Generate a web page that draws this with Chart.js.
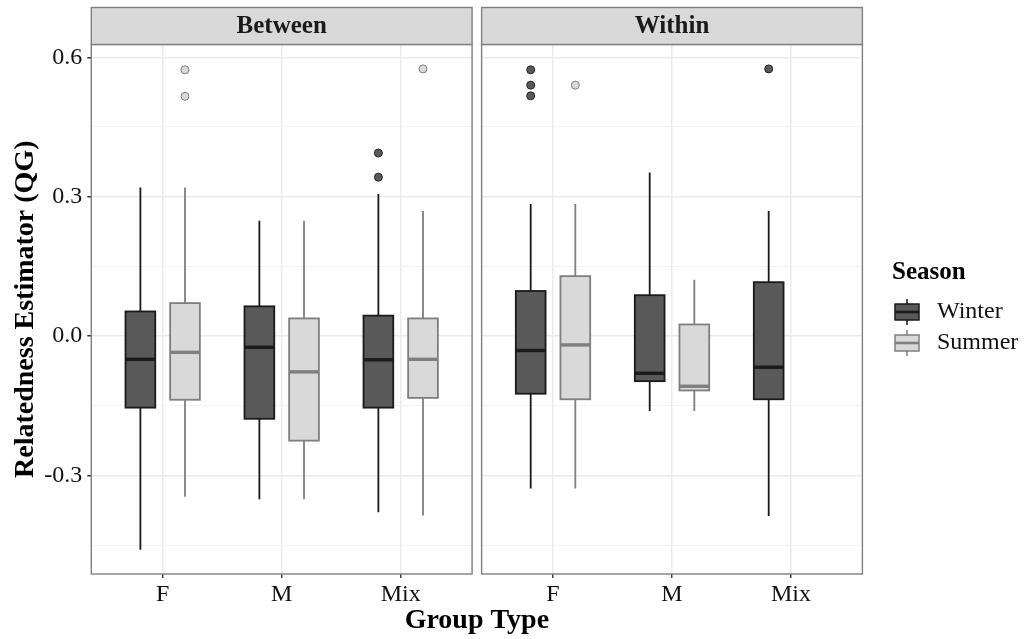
<!DOCTYPE html>
<html>
<head>
<meta charset="utf-8">
<script src="https://cdn.jsdelivr.net/npm/chart.js@4"></script>
<style>
  body { margin: 0; background: #ffffff; }
  #wrap { width: 1025px; height: 639px; }
</style>
</head>
<body>
<div id="wrap"><canvas id="box-chart" width="1025" height="639"></canvas></div>
<script>
// Relatedness by group type, faceted Between / Within
var panels = ["Between", "Within"];
var groupTypes = ["F", "M", "Mix"];
var seasons = ["Winter", "Summer"];
var yTicks = [-0.45, -0.3, -0.15, 0, 0.15, 0.3, 0.45, 0.6];
var yTickLabels = ["", "-0.3", "", "0.0", "", "0.3", "", "0.6"];

// [lower whisker, q1, median, q3, upper whisker] for F, M, Mix (null = no box)
var betweenWinter = [[-0.460, -0.154, -0.050, 0.053, 0.320], [-0.351, -0.178, -0.024, 0.064, 0.248], [-0.379, -0.154, -0.051, 0.044, 0.306]];
var betweenSummer = [[-0.346, -0.137, -0.035, 0.071, 0.320], [-0.351, -0.225, -0.077, 0.038, 0.248], [-0.386, -0.133, -0.050, 0.038, 0.269]];
var withinWinter = [[-0.328, -0.124, -0.031, 0.097, 0.284], [-0.161, -0.097, -0.080, 0.088, 0.352], [-0.387, -0.136, -0.067, 0.116, 0.269]];
var withinSummer = [[-0.328, -0.136, -0.019, 0.129, 0.284], [-0.161, -0.117, -0.108, 0.025, 0.121], null];

// outliers for F, M, Mix
var betweenWinterOutliers = [[], [], [0.394, 0.342]];
var betweenSummerOutliers = [[0.573, 0.516], [], [0.575]];
var withinWinterOutliers = [[0.573, 0.540, 0.517], [], [0.575]];
var withinSummerOutliers = [[0.540], [], []];

var boxStats = [[betweenWinter, betweenSummer], [withinWinter, withinSummer]];
var outliers = [[betweenWinterOutliers, betweenSummerOutliers], [withinWinterOutliers, withinSummerOutliers]];

var fills = ["#595959", "#d9d9d9"];
var strokes = ["#1a1a1a", "#7f7f7f"];
var FONT = "'Liberation Serif', 'Times New Roman', serif";

// x layout in axis units: each facet runs 0.4..3.6, small gap between facets
var PANEL_GAP = 0.08;
var PANEL_SPAN = 3.2 + PANEL_GAP;
var DODGE = 0.1875;
var BOX_HALF = 0.125;

function catPos(p, c) { return p * PANEL_SPAN + c + 1; }
function panelMin(p) { return p * PANEL_SPAN + 0.4; }
function panelMax(p) { return p * PANEL_SPAN + 3.6; }

var xTickValues = [];
for (var p = 0; p < panels.length; p++) {
    for (var c = 0; c < groupTypes.length; c++) xTickValues.push(catPos(p, c));
}

function outlierPoints(s) {
    var pts = [];
    for (var p = 0; p < panels.length; p++) {
        for (var c = 0; c < groupTypes.length; c++) {
            var list = outliers[p][s][c];
            for (var i = 0; i < list.length; i++) {
                pts.push({ x: catPos(p, c) + (s == 0 ? -DODGE : DODGE), y: list[i] });
            }
        }
    }
    return pts;
}

function isMajor(v) {
    return Math.abs(Math.round(v / 0.3) * 0.3 - v) < 1e-6;
}

var boxPlugin = {
    id: 'boxes',
    beforeDatasetsDraw: function (chart) {
        var ctx = chart.ctx, xs = chart.scales.x, ys = chart.scales.y, area = chart.chartArea;
        ctx.save();
        // blank space between the two facets
        var gl = xs.getPixelForValue(panelMax(0)), gr = xs.getPixelForValue(panelMin(1));
        ctx.fillStyle = '#ffffff';
        ctx.fillRect(gl, area.top - 1, gr - gl, area.bottom - area.top + 2);

        for (var p = 0; p < panels.length; p++) {
            for (var s = 0; s < seasons.length; s++) {
                for (var c = 0; c < groupTypes.length; c++) {
                    var st = boxStats[p][s][c];
                    if (!st) continue;
                    var xc = catPos(p, c) + (s == 0 ? -DODGE : DODGE);
                    var px = xs.getPixelForValue(xc);
                    var l = xs.getPixelForValue(xc - BOX_HALF), r = xs.getPixelForValue(xc + BOX_HALF);
                    var yLo = ys.getPixelForValue(st[0]), yQ1 = ys.getPixelForValue(st[1]);
                    var yMed = ys.getPixelForValue(st[2]), yQ3 = ys.getPixelForValue(st[3]);
                    var yHi = ys.getPixelForValue(st[4]);
                    ctx.strokeStyle = strokes[s];
                    ctx.lineWidth = 1.8;
                    ctx.beginPath();
                    ctx.moveTo(px, yHi); ctx.lineTo(px, yQ3);
                    ctx.moveTo(px, yQ1); ctx.lineTo(px, yLo);
                    ctx.stroke();
                    ctx.fillStyle = fills[s];
                    ctx.fillRect(l, yQ3, r - l, yQ1 - yQ3);
                    ctx.strokeRect(l, yQ3, r - l, yQ1 - yQ3);
                    ctx.lineWidth = 3.4;
                    ctx.beginPath();
                    ctx.moveTo(l, yMed); ctx.lineTo(r, yMed);
                    ctx.stroke();
                }
            }
        }
        ctx.restore();
    },
    afterDraw: function (chart) {
        var ctx = chart.ctx, xs = chart.scales.x, area = chart.chartArea;
        ctx.save();
        for (var p = 0; p < panels.length; p++) {
            var l = xs.getPixelForValue(panelMin(p)), r = xs.getPixelForValue(panelMax(p));
            // panel border
            ctx.strokeStyle = '#7f7f7f';
            ctx.lineWidth = 1.4;
            ctx.strokeRect(l, area.top, r - l, area.bottom - area.top);
            // strip
            ctx.fillStyle = '#d9d9d9';
            ctx.fillRect(l, area.top - 37, r - l, 37);
            ctx.strokeRect(l, area.top - 37, r - l, 37);
            ctx.fillStyle = '#1a1a1a';
            ctx.font = 'bold 25px ' + FONT;
            ctx.textAlign = 'center';
            ctx.textBaseline = 'middle';
            ctx.fillText(panels[p], (l + r) / 2, area.top - 18);
        }

        // legend
        ctx.textAlign = 'left';
        ctx.textBaseline = 'middle';
        ctx.fillStyle = '#000000';
        ctx.font = 'bold 25px ' + FONT;
        ctx.fillText('Season', 892, 273);
        var keyY = [312, 343];
        for (var s = 0; s < seasons.length; s++) {
            var cy = keyY[s], kl = 895, kr = 919, kx = 907;
            ctx.strokeStyle = strokes[s];
            ctx.lineWidth = 1.5;
            ctx.beginPath();
            ctx.moveTo(kx, cy - 13); ctx.lineTo(kx, cy - 8);
            ctx.moveTo(kx, cy + 8); ctx.lineTo(kx, cy + 13);
            ctx.stroke();
            ctx.fillStyle = fills[s];
            ctx.fillRect(kl, cy - 8, kr - kl, 16);
            ctx.strokeRect(kl, cy - 8, kr - kl, 16);
            ctx.lineWidth = 2.6;
            ctx.beginPath();
            ctx.moveTo(kl, cy); ctx.lineTo(kr, cy);
            ctx.stroke();
            ctx.fillStyle = '#111111';
            ctx.font = '24px ' + FONT;
            ctx.fillText(seasons[s], 937, cy);
        }
        ctx.restore();
    }
};

var ctx = document.getElementById('box-chart').getContext('2d');
var myChart = new Chart(ctx, {
    type: 'scatter',
    data: {
        datasets: [
            {
                label: 'Winter',
                data: outlierPoints(0),
                backgroundColor: fills[0],
                borderColor: '#262626',
                borderWidth: 1,
                pointRadius: 4
            },
            {
                label: 'Summer',
                data: outlierPoints(1),
                backgroundColor: fills[1],
                borderColor: strokes[1],
                borderWidth: 1,
                pointRadius: 4
            }
        ]
    },
    options: {
        responsive: false,
        animation: false,
        devicePixelRatio: 1,
        layout: { padding: { top: 44.5, right: 162.6, bottom: 0, left: 0 } },
        plugins: {
            legend: { display: false },
            tooltip: { enabled: false }
        },
        scales: {
            x: {
                type: 'linear',
                min: 0.4,
                max: panelMax(1),
                afterBuildTicks: function (scale) {
                    scale.ticks = xTickValues.map(function (v) { return { value: v }; });
                },
                afterFit: function (scale) { scale.height = 65; },
                ticks: {
                    autoSkip: false,
                    maxRotation: 0,
                    padding: 2,
                    color: '#111111',
                    font: { family: FONT, size: 24 },
                    callback: function (value, index) { return groupTypes[index % groupTypes.length]; }
                },
                grid: {
                    color: '#ebebeb',
                    lineWidth: 1.5,
                    tickColor: '#333333',
                    tickLength: 4,
                    tickWidth: 1.4
                },
                border: { display: false },
                title: {
                    display: true,
                    text: 'Group Type',
                    color: '#000000',
                    font: { family: FONT, size: 28, weight: 'bold' },
                    padding: { top: 0, bottom: 1 }
                }
            },
            y: {
                min: -0.512,
                max: 0.6275,
                afterBuildTicks: function (scale) {
                    scale.ticks = yTicks.map(function (v) { return { value: v }; });
                },
                afterFit: function (scale) { scale.width = 91.3; },
                ticks: {
                    padding: 5,
                    color: '#111111',
                    font: { family: FONT, size: 24 },
                    callback: function (value, index) { return yTickLabels[index]; }
                },
                grid: {
                    color: function (c) { return isMajor(c.tick.value) ? '#ebebeb' : '#f3f3f3'; },
                    lineWidth: function (c) { return isMajor(c.tick.value) ? 1.5 : 1; },
                    tickColor: function (c) { return isMajor(c.tick.value) ? '#333333' : 'rgba(0,0,0,0)'; },
                    tickLength: 4
                },
                border: { display: false },
                title: {
                    display: true,
                    text: 'Relatedness Estimator (QG)',
                    color: '#000000',
                    font: { family: FONT, size: 28, weight: 'bold' },
                    padding: { top: 9, bottom: 0 }
                }
            }
        }
    },
    plugins: [boxPlugin]
});
</script>
</body>
</html>
